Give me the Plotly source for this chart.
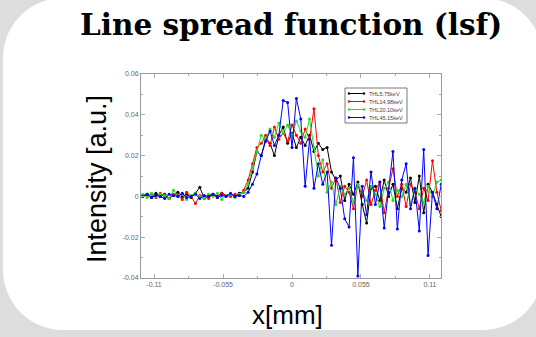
import plotly.graph_objects as go

W, H = 536, 337
ML, MR, MT, MB = 141, 95, 74, 59

# ---------------- data ----------------
x_mm = [
    -0.1190, -0.1155, -0.1120, -0.1085, -0.1050, -0.1015, -0.0980, -0.0945, -0.0910, -0.0875,
    -0.0840, -0.0805, -0.0770, -0.0735, -0.0700, -0.0665, -0.0630, -0.0595, -0.0560, -0.0525,
    -0.0490, -0.0455, -0.0420, -0.0385, -0.0350, -0.0315, -0.0280, -0.0245, -0.0210, -0.0175,
    -0.0140, -0.0105, -0.0070, -0.0035, 0.0000, 0.0035, 0.0070, 0.0105, 0.0140, 0.0175,
    0.0210, 0.0245, 0.0280, 0.0315, 0.0350, 0.0385, 0.0420, 0.0455, 0.0490, 0.0525,
    0.0560, 0.0595, 0.0630, 0.0665, 0.0700, 0.0735, 0.0770, 0.0805, 0.0840, 0.0875,
    0.0910, 0.0945, 0.0980, 0.1015, 0.1050, 0.1085, 0.1120, 0.1155, 0.1190,
]

lsf_thl_5_75 = [
    0.0005, 0.001, -0.0005, 0.0015, 0.0, 0.001, -0.001, 0.0005, 0.002, 0.0,
    0.001, -0.0005, 0.0015, 0.0045, -0.001, 0.0005, 0.001, 0.0, 0.0015, 0.0005,
    0.001, 0.0, 0.0015, 0.002, 0.004, 0.012, 0.022, 0.02, 0.028, 0.026,
    0.02, 0.03, 0.034, 0.026, 0.031, 0.024, 0.029, 0.025, 0.03, 0.022,
    0.026, 0.023, 0.024, 0.012, 0.008, 0.01, -0.002, 0.006, 0.001, 0.007,
    -0.004, -0.013, 0.004, 0.005, -0.002, 0.008, 0.0, 0.006, -0.006, 0.004,
    0.002, 0.009, -0.003, 0.01, -0.008, 0.006, 0.002, -0.004, -0.01,
]

lsf_thl_14_98 = [
    0.0, 0.0005, 0.001, -0.0005, 0.0015, 0.0, -0.001, 0.001, 0.0005, -0.0015,
    0.002, 0.0, -0.0035, 0.0005, 0.0, -0.001, 0.001, -0.0005, 0.0015, 0.0005,
    0.0, 0.001, 0.0005, 0.003, 0.008, 0.016, 0.024, 0.026, 0.03, 0.025,
    0.034, 0.028, 0.031, 0.027, 0.035, 0.03, 0.026, 0.033, 0.028, 0.043,
    0.02, 0.012, 0.016, 0.004, 0.009, -0.003, 0.005, 0.002, -0.006, 0.006,
    0.0, 0.008, -0.004, 0.003, 0.007, -0.008, 0.004, 0.0135, 0.0, 0.006,
    -0.005, 0.006, 0.002, -0.006, 0.004, -0.002, 0.0175, 0.002, -0.007,
]

lsf_thl_20_10 = [
    0.001, -0.0005, 0.0015, 0.0, 0.001, 0.0005, -0.001, 0.003, 0.0, 0.001,
    -0.0015, 0.0005, 0.0015, 0.0, -0.001, 0.001, 0.0, 0.0015, -0.0015, 0.0005,
    0.001, -0.0005, 0.001, 0.002, 0.006, 0.014, 0.022, 0.03, 0.028, 0.033,
    0.029, 0.036, 0.031, 0.035, 0.03, 0.037, 0.032, 0.029, 0.038, 0.024,
    0.01, 0.018, 0.002, 0.007, -0.004, 0.005, 0.001, 0.004, -0.003, 0.006,
    0.002, -0.002, 0.005, 0.001, -0.005, 0.004, 0.007, -0.002, 0.003, 0.0,
    0.006, -0.004, 0.004, 0.001, -0.003, 0.005, 0.0, 0.007, 0.008,
]

lsf_thl_45_15 = [
    0.0, 0.001, -0.0005, 0.0005, 0.0, -0.001, 0.001, 0.0005, 0.0, 0.0015,
    -0.0005, 0.0, 0.001, -0.001, 0.0005, 0.0, 0.001, -0.0005, 0.0005, 0.0,
    0.0015, 0.0, 0.0005, 0.0, 0.002, 0.006, 0.011, 0.02, 0.027, 0.032,
    0.025, 0.03, 0.047, 0.046, 0.024, 0.048, 0.038, 0.005, 0.028, 0.004,
    0.016, 0.006, 0.012, -0.024, 0.009, 0.004, -0.011, -0.015, 0.019, -0.039,
    0.005, -0.009, 0.012, -0.004, 0.007, -0.0155, 0.002, 0.022, -0.016, 0.008,
    0.016, -0.006, 0.004, -0.017, 0.023, -0.029, 0.002, -0.006, 0.006,
]

series_names = ["THL5.75keV", "THL14.98keV", "THL20.10keV", "THL45.15keV"]
series_values = [lsf_thl_5_75, lsf_thl_14_98, lsf_thl_20_10, lsf_thl_45_15]
series_colors = ["#000000", "#ff0000", "#22dd22", "#0000ff"]

x_tickvals = [-0.11, -0.055, 0, 0.055, 0.11]
x_ticktext = ["-0.11", "-0.055", "0", "0.055", "0.11"]
x_minorvals = [-0.0825, -0.0275, 0.0275, 0.0825]
y_tickvals = [-0.04, -0.02, 0, 0.02, 0.04, 0.06]
y_ticktext = ["-0.04", "-0.02", "0", "0.02", "0.04", "0.06"]

title_text = "Line spread function (lsf)"
x_title = "x[mm]"
y_title = "Intensity [a.u.]"

# ---------------- helpers (pixel -> paper) ----------------
PW = W - ML - MR
PH = H - MT - MB


def px(x):
    return (x - ML) / PW


def py(y):
    return (H - MB - y) / PH


fig = go.Figure()
for name, vals, col in zip(series_names, series_values, series_colors):
    fig.add_trace(go.Scatter(
        x=x_mm, y=vals, name=name, mode="lines+markers",
        line=dict(color=col, width=1),
        marker=dict(color=col, size=3),
        showlegend=False,
    ))

# rounded white card on grey background
L_, R_, T_, B_, RAD = 3, 543, -2, 330, 60
k = 0.5523 * RAD


def P(x, y):
    return f"{px(x):.5f},{py(y):.5f}"


card = (
    f"M {P(L_ + RAD, T_)} L {P(R_ - RAD, T_)} "
    f"C {P(R_ - RAD + k, T_)} {P(R_, T_ + RAD - k)} {P(R_, T_ + RAD)} "
    f"L {P(R_, B_ - RAD)} "
    f"C {P(R_, B_ - RAD + k)} {P(R_ - RAD + k, B_)} {P(R_ - RAD, B_)} "
    f"L {P(L_ + RAD, B_)} "
    f"C {P(L_ + RAD - k, B_)} {P(L_, B_ - RAD + k)} {P(L_, B_ - RAD)} "
    f"L {P(L_, T_ + RAD)} "
    f"C {P(L_, T_ + RAD - k)} {P(L_ + RAD - k, T_)} {P(L_ + RAD, T_)} Z"
)
shapes = [dict(type="path", path=card, xref="paper", yref="paper",
               fillcolor="white", line=dict(width=0), layer="below")]

# custom legend box
lx0, lx1, ly0, ly1 = 345, 407, 88, 123
shapes.append(dict(type="rect", xref="paper", yref="paper",
                   x0=px(lx0), x1=px(lx1), y0=py(ly1), y1=py(ly0),
                   line=dict(color="#555555", width=0.8), fillcolor="white", layer="above"))
annotations = []
row_y = [93.5, 101.5, 109.5, 117.5]
for name, col, yy in zip(series_names, series_colors, row_y):
    shapes.append(dict(type="line", xref="paper", yref="paper",
                       x0=px(349), x1=px(364), y0=py(yy), y1=py(yy),
                       line=dict(color=col, width=1), layer="above"))
    for xx in (349, 364):
        shapes.append(dict(type="circle", xref="paper", yref="paper",
                           x0=px(xx - 1.2), x1=px(xx + 1.2), y0=py(yy + 1.2), y1=py(yy - 1.2),
                           fillcolor=col, line=dict(color=col, width=0), layer="above"))
    annotations.append(dict(text=name, xref="paper", yref="paper", x=px(367), y=py(yy),
                            xanchor="left", yanchor="middle", showarrow=False,
                            font=dict(family="Liberation Sans, Arial", size=5.5, color="#444444")))

annotations.append(dict(text=f"<b>{title_text}</b>", xref="paper", yref="paper",
                        x=px(291), y=py(24), xanchor="center", yanchor="middle", showarrow=False,
                        font=dict(family="DejaVu Serif, serif", size=29.5, color="black")))
annotations.append(dict(text=y_title, xref="paper", yref="paper", textangle=-90,
                        x=px(97), y=py(179), xanchor="center", yanchor="middle", showarrow=False,
                        font=dict(family="Liberation Sans, Arial", size=27, color="black")))
annotations.append(dict(text=x_title, xref="paper", yref="paper",
                        x=px(287), y=py(315), xanchor="center", yanchor="middle", showarrow=False,
                        font=dict(family="Liberation Sans, Arial", size=26, color="black")))

axis_common = dict(showgrid=False, zeroline=False, showline=True, linecolor="#999999",
                   linewidth=1, mirror="allticks", ticks="inside", ticklen=4,
                   tickcolor="#aaaaaa", tickwidth=1,
                   tickfont=dict(family="Liberation Sans, Arial", size=7, color="#666666"))

fig.update_layout(
    width=W, height=H,
    margin=dict(l=ML, r=MR, t=MT, b=MB, autoexpand=False),
    paper_bgcolor="#dddddd", plot_bgcolor="white",
    showlegend=False,
    shapes=shapes, annotations=annotations,
    xaxis=dict(range=[-0.1204, 0.1188], tickvals=x_tickvals, ticktext=x_ticktext,
               minor=dict(tickvals=x_minorvals, ticks="inside", ticklen=2, tickcolor="#aaaaaa"),
               **axis_common),
    yaxis=dict(range=[-0.04, 0.06], tickvals=y_tickvals, ticktext=y_ticktext,
               minor=dict(dtick=0.01, ticks="inside", ticklen=2, tickcolor="#aaaaaa"),
               **axis_common),
)

fig.write_html("out.html")
